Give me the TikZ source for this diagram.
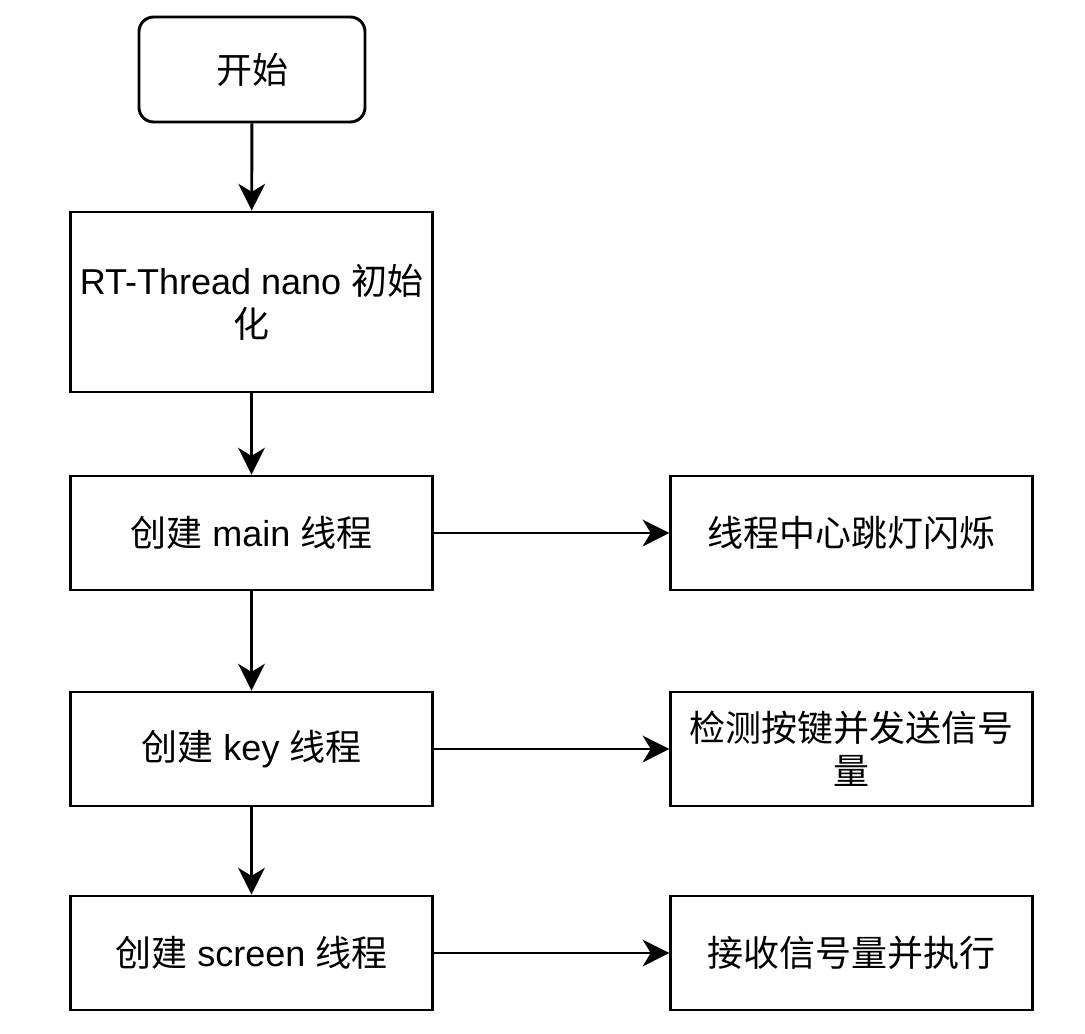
\documentclass[tikz,border=0pt]{standalone}
\usepackage{fontspec}
\setmainfont{Liberation Sans}
\newfontfamily\cjk{Noto Sans CJK SC}
\usetikzlibrary{arrows.meta}
\begin{document}
\begin{tikzpicture}[x=0.75pt,y=-0.75pt,
  box/.style={draw,line width=2.2pt,minimum width=271pt,minimum height=85.5pt,inner sep=0pt,align=center,font=\fontsize{27}{32}\selectfont},
  startbox/.style={box,rounded corners=11pt,minimum width=169.5pt,minimum height=78.75pt},
  arr/.style={line width=2.2pt,-{Stealth[length=20pt,width=20pt,inset=6pt]}}]
\useasboundingbox (0,0) rectangle (1085,1033);
\node[startbox] (start) at (252,69.5) {\cjk 开始};
\node[box,minimum height=135pt] (init) at (251.5,302) {RT-Thread nano {\cjk 初始}\\{\cjk 化}};
\node[box] (main) at (251.5,533) {{\cjk 创建} main {\cjk 线程}};
\node[box] (key) at (251.5,749) {{\cjk 创建} key {\cjk 线程}};
\node[box] (screen) at (251.5,953) {{\cjk 创建} screen {\cjk 线程}};
\node[box] (blink) at (851.5,533) {\cjk 线程中心跳灯闪烁};
\node[box] (detect) at (851.5,749) {{\cjk 检测按键并发送信号}\\{\cjk 量}};
\node[box] (recv) at (851.5,953) {\cjk 接收信号量并执行};
\draw[arr] (start) -- (init);
\draw[arr] (init) -- (main);
\draw[arr] (main) -- (key);
\draw[arr] (key) -- (screen);
\draw[arr] (main) -- (blink);
\draw[arr] (key) -- (detect);
\draw[arr] (screen) -- (recv);
\end{tikzpicture}
\end{document}
